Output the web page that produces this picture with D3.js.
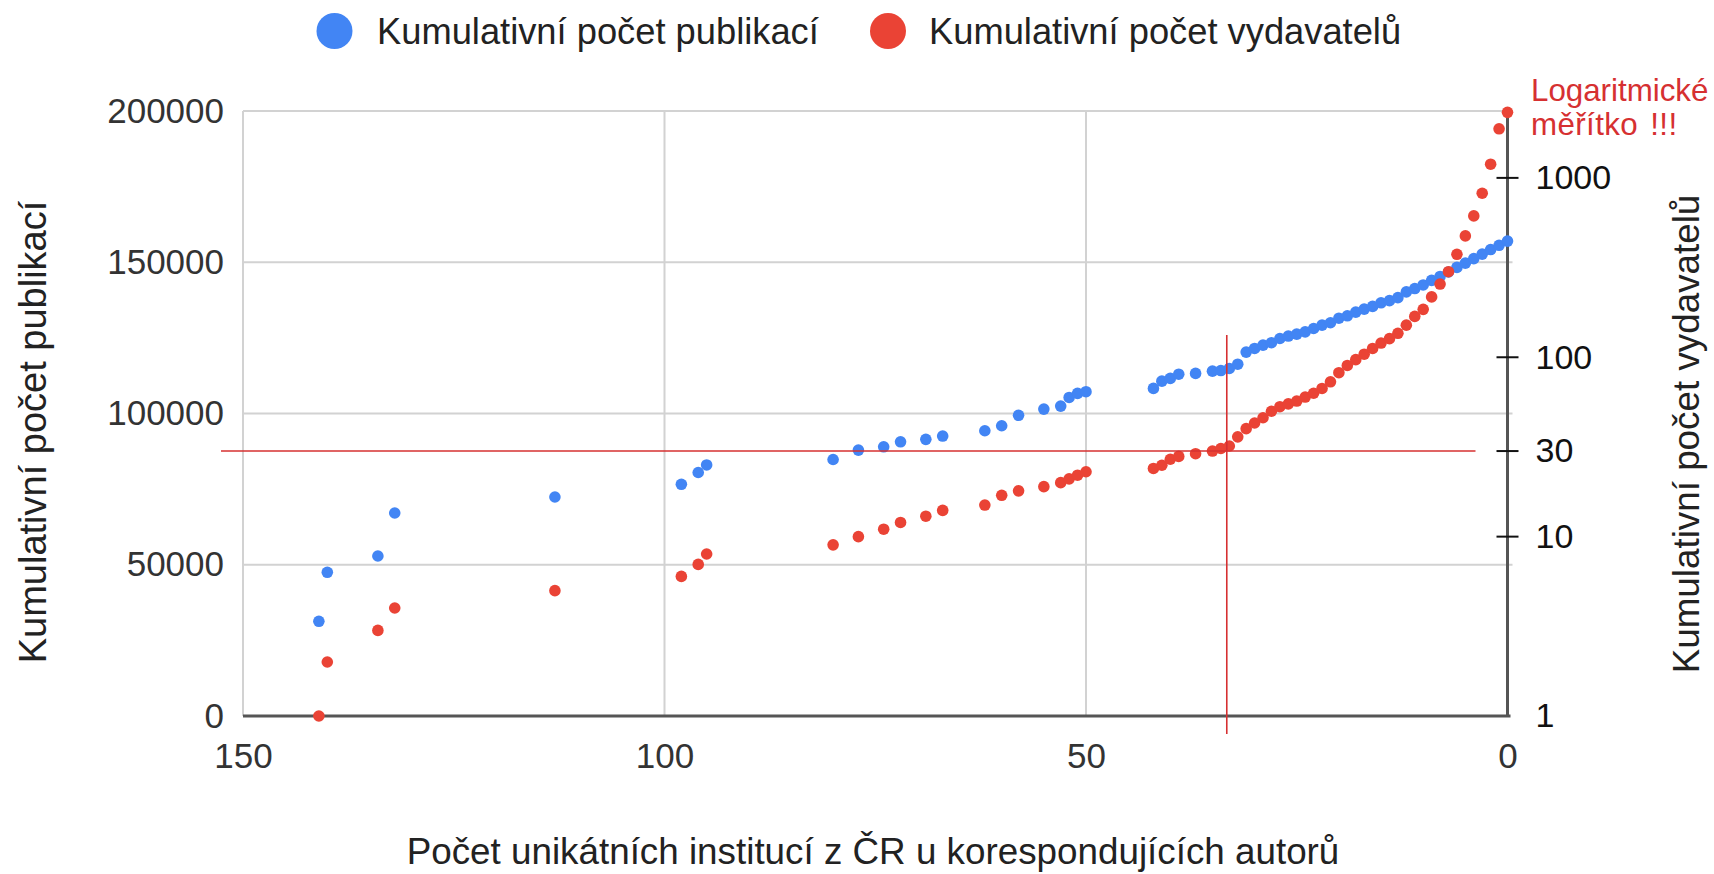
<!DOCTYPE html>
<html>
<head>
<meta charset="utf-8">
<script src="https://cdn.jsdelivr.net/npm/d3@7"></script>
<style>
  html, body { margin: 0; padding: 0; background: #fff; }
  svg { display: block; }
  text { font-family: "Liberation Sans", Arial, Helvetica, sans-serif; }
</style>
</head>
<body>
<svg id="chart" width="1714" height="874"></svg>
<script>
// ---- data ----
const institutions = [141,140,134,132,113,98,96,95,80,77,74,72,69,67,62,60,58,55,53,52,51,50,
  42,41,40,39,37,35,34,33,32,31,30,29,28,27,26,25,24,23,22,21,20,19,18,17,16,15,14,13,12,11,10,9,8,7,6,5,4,3,2,1,0];
const publications = [31300,47500,52900,67100,72400,76600,80500,83000,84800,87900,89000,90650,91450,92550,94300,95950,99400,101450,102450,105300,106650,107200,
  108300,110700,111600,113000,113250,114000,114200,114900,116300,120300,121500,122600,123400,124800,125600,126250,127000,128100,129200,130000,131500,132300,133500,134500,135400,136600,137300,138300,140200,141300,142500,144000,145300,146800,148300,149700,151200,152700,154200,155600,157000];
const publishers = [1,2,3,4,5,6,7,8,9,10,11,12,13,14,15,17,18,19,20,21,22,23,
  24,25,27,28,29,30,31,32,36,40,43,46,50,53,55,57,60,63,67,73,82,90,97,104,112,120,127,136,151,169,185,217,256,300,375,475,614,821,1192,1878,2320];

const xTicks = [150, 100, 50, 0];
const leftTicks = [0, 50000, 100000, 150000, 200000];
const rightTicks = [1, 10, 30, 100, 1000];
const seriesNames = ["Kumulativní počet publikací", "Kumulativní počet vydavatelů"];
const seriesColors = ["#4285f4", "#ea4335"];
const annotX = 33.3;      // vertical marker (institutions)
const annotY = 30;        // horizontal marker (publishers, log axis)

// ---- layout ----
const svg = d3.select("#chart");
const L = 243, R = 1507.5, T = 111, B = 716;

const x = d3.scaleLinear().domain([150, 0]).range([L, R]);
const yL = d3.scaleLinear().domain([0, 200000]).range([B, T]);
const yR = d3.scaleLog().domain([1, 2360]).range([B, T]);

svg.append("rect").attr("width", 1714).attr("height", 874).attr("fill", "#fff");

// gridlines
const grid = svg.append("g");
grid.selectAll("line.h").data(leftTicks.filter(d => d > 0)).join("line")
  .attr("x1", L).attr("x2", R + 5)
  .attr("y1", d => yL(d)).attr("y2", d => yL(d))
  .attr("stroke", "#d2d2d2").attr("stroke-width", 2);
grid.selectAll("line.v").data(xTicks.filter(d => d > 0)).join("line")
  .attr("x1", d => x(d)).attr("x2", d => x(d))
  .attr("y1", T).attr("y2", B)
  .attr("stroke", "#d2d2d2").attr("stroke-width", 2);

// left axis labels
const gl = svg.append("g").attr("transform", `translate(${L},0)`)
  .call(d3.axisLeft(yL).tickValues(leftTicks).tickSize(0).tickPadding(19).tickFormat(d3.format("d")));
gl.select(".domain").remove();
gl.selectAll("text").attr("font-size", 35).attr("fill", "#333")
  .style("font-family", '"Liberation Sans", Arial, sans-serif');

// bottom axis labels
const gb = svg.append("g").attr("transform", `translate(0,${B})`)
  .call(d3.axisBottom(x).tickValues(xTicks).tickSize(0).tickPadding(27).tickFormat(d3.format("d")));
gb.select(".domain").remove();
gb.selectAll("text").attr("font-size", 35).attr("fill", "#333")
  .style("font-family", '"Liberation Sans", Arial, sans-serif');

// baseline and right axis line
svg.append("line").attr("x1", L).attr("x2", R + 3).attr("y1", B).attr("y2", B)
  .attr("stroke", "#555").attr("stroke-width", 3);
svg.append("line").attr("x1", R).attr("x2", R).attr("y1", T).attr("y2", B + 1)
  .attr("stroke", "#555").attr("stroke-width", 3);

// right (log) axis
const gr = svg.append("g").attr("transform", `translate(${R},0)`)
  .call(d3.axisRight(yR).tickValues(rightTicks).tickSize(0).tickPadding(28).tickFormat(d3.format("d")));
gr.select(".domain").remove();
gr.selectAll("text").attr("font-size", 34).attr("fill", "#111")
  .style("font-family", '"Liberation Sans", Arial, sans-serif');
svg.append("g").selectAll("line").data(rightTicks.filter(d => d > 1)).join("line")
  .attr("x1", R - 11).attr("x2", R + 11)
  .attr("y1", d => yR(d)).attr("y2", d => yR(d))
  .attr("stroke", "#111").attr("stroke-width", 2);

// points
const pts = institutions.map((v, i) => ({x: v, pub: publications[i], vyd: publishers[i]}));
svg.append("g").selectAll("circle").data(pts).join("circle")
  .attr("cx", d => x(d.x)).attr("cy", d => yL(d.pub)).attr("r", 5.8)
  .attr("fill", seriesColors[0]);
svg.append("g").selectAll("circle").data(pts).join("circle")
  .attr("cx", d => x(d.x)).attr("cy", d => yR(d.vyd)).attr("r", 5.8)
  .attr("fill", seriesColors[1]);

// annotations
const annot = "#d63031";
svg.append("line").attr("x1", x(150) - 22).attr("x2", x(0) - 32)
  .attr("y1", yR(annotY)).attr("y2", yR(annotY))
  .attr("stroke", annot).attr("stroke-width", 1.6);
svg.append("line").attr("x1", x(annotX)).attr("x2", x(annotX))
  .attr("y1", 335).attr("y2", B + 18)
  .attr("stroke", annot).attr("stroke-width", 1.6);
const note = svg.append("text")
  .attr("font-size", 31.3).attr("fill", annot)
  .style("font-family", '"Liberation Sans", Arial, sans-serif');
note.append("tspan").attr("x", 1531).attr("y", 101).text("Logaritmické");
note.append("tspan").attr("x", 1531).attr("y", 135).attr("word-spacing", 3).attr("letter-spacing", 0.4).text("měřítko !!!");

// legend
const legendX = [[334.5, 377], [888, 929]];
seriesNames.forEach((name, i) => {
  svg.append("circle").attr("cx", legendX[i][0]).attr("cy", 31).attr("r", 18).attr("fill", seriesColors[i]);
  svg.append("text").attr("x", legendX[i][1]).attr("y", 43.5)
    .attr("font-size", 36.3).attr("fill", "#222").text(name);
});

// axis titles
svg.append("text").attr("transform", "translate(46,432) rotate(-90)")
  .attr("text-anchor", "middle").attr("font-size", 38).attr("fill", "#222")
  .text("Kumulativní počet publikací");
svg.append("text").attr("transform", "translate(1699,434) rotate(-90)")
  .attr("text-anchor", "middle").attr("font-size", 36.8).attr("fill", "#222")
  .text("Kumulativní počet vydavatelů");
svg.append("text").attr("x", 873).attr("y", 864)
  .attr("text-anchor", "middle").attr("font-size", 36.8).attr("fill", "#222")
  .text("Počet unikátních institucí z ČR u korespondujících autorů");
</script>
</body>
</html>
